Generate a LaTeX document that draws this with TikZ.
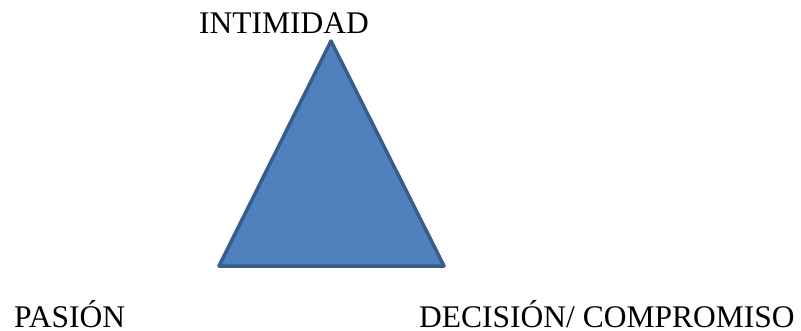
\documentclass[tikz,border=0pt]{standalone}
\usepackage{fontspec}
\setmainfont{Liberation Serif}
\definecolor{trifill}{HTML}{4F81BD}
\definecolor{triline}{HTML}{385D8A}
\begin{document}
\begin{tikzpicture}[x=1bp,y=-1bp,
  lbl/.style={anchor=base west,inner sep=0pt,text depth=0pt,font=\fontsize{31.5bp}{36bp}\selectfont},
  tri/.style={fill=trifill,draw=triline,line width=3.5bp,line join=round}]
\useasboundingbox (0,0) rectangle (801,330);
\coordinate (apex) at (331,41);
\coordinate (bl) at (219,266);
\coordinate (br) at (444,266);
\draw[tri] (apex) -- (br) -- (bl) -- cycle;
\node[lbl] (intimidad) at (199,33) {INTIMIDAD};
\node[lbl] (pasion) at (14,327) {PASIÓN};
\node[lbl] (decision) at (419,327) {DECISIÓN/ COMPROMISO};
\end{tikzpicture}
\end{document}
